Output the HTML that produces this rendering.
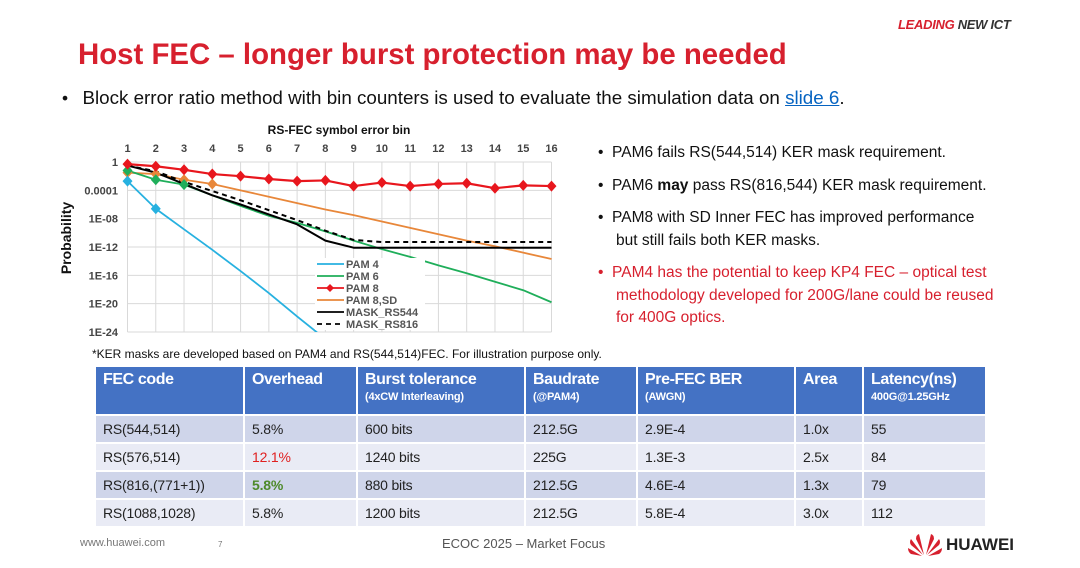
<!DOCTYPE html>
<html><head><meta charset="utf-8">
<style>
body{margin:0;background:#fff;}
#page{position:relative;width:1080px;height:568px;overflow:hidden;font-family:"Liberation Sans",sans-serif;background:#fff;}
.abs{position:absolute;white-space:nowrap;}
table{border-collapse:collapse;font-family:"Liberation Sans Narrow","Liberation Sans",sans-serif;table-layout:fixed;}
td{font-size:14px;color:#222;padding:0 7px;border:2px solid #fff;letter-spacing:-0.2px;}
th{background:#4472c4;color:#fff;text-align:left;font-size:16px;font-weight:bold;padding:3px 7px;border:2px solid #fff;vertical-align:top;line-height:20px;letter-spacing:-0.4px;}
th small{font-size:11px;display:block;line-height:14px;letter-spacing:-0.2px;}
tr.a td{background:#cfd5ea;height:24px;}
tr.b td{background:#e9ebf5;height:24px;}
</style></head><body>
<div id="page">
<div class="abs" style="left:898px;top:17px;font-size:13px;font-weight:bold;font-style:italic;letter-spacing:-0.3px"><span style="color:#d7202e">LEADING</span> <span style="color:#333">NEW ICT</span></div>
<div class="abs" style="left:78px;top:38px;font-size:29.4px;font-weight:bold;color:#d7202e">Host FEC – longer burst protection may be needed</div>
<div class="abs" style="left:62px;top:87px;font-size:17.3px;color:#111">•&nbsp;&nbsp; <span style="font-size:18.8px">Block error ratio method with bin counters is used to evaluate the simulation data on <span style="color:#0563c1;text-decoration:underline">slide 6</span>.</span></div>

<svg class="abs" style="left:0;top:0" width="600" height="350" id="chart"></svg>

<div class="abs" style="left:598px;top:142px;font-size:15.5px;color:#111;line-height:22.5px;white-space:normal;width:432px">
<div style="margin-bottom:10px">•&nbsp;&nbsp;PAM6 fails RS(544,514) KER mask requirement.</div>
<div style="margin-bottom:10px">•&nbsp;&nbsp;PAM6 <b>may</b> pass RS(816,544) KER mask requirement.</div>
<div style="margin-bottom:10px;padding-left:18px;text-indent:-18px">•&nbsp;&nbsp;PAM8 with SD Inner FEC has improved performance<br>but still fails both KER masks.</div>
<div style="color:#d7202e;padding-left:18px;text-indent:-18px">•&nbsp;&nbsp;PAM4 has the potential to keep KP4 FEC – optical test<br>methodology developed for 200G/lane could be reused<br>for 400G optics.</div>
</div>
<div class="abs" style="left:92px;top:347px;font-size:12px;color:#111">*KER masks are developed based on PAM4 and RS(544,514)FEC. For illustration purpose only.</div>

<table class="abs" style="left:94px;top:365px;width:893px">
<tr style="height:49px"><th style="width:133px">FEC code</th><th style="width:97px">Overhead</th><th style="width:152px">Burst tolerance<small>(4xCW Interleaving)</small></th><th style="width:96px">Baudrate<small>(@PAM4)</small></th><th style="width:142px">Pre-FEC BER<small>(AWGN)</small></th><th style="width:52px">Area</th><th>Latency(ns)<small>400G@1.25GHz</small></th></tr>
<tr class="a" style="height:28px"><td>RS(544,514)</td><td>5.8%</td><td>600 bits</td><td>212.5G</td><td>2.9E-4</td><td>1.0x</td><td>55</td></tr>
<tr class="b" style="height:28px"><td>RS(576,514)</td><td style="color:#e02020">12.1%</td><td>1240 bits</td><td>225G</td><td>1.3E-3</td><td>2.5x</td><td>84</td></tr>
<tr class="a" style="height:28px"><td>RS(816,(771+1))</td><td style="color:#4e8a2a;font-weight:bold">5.8%</td><td>880 bits</td><td>212.5G</td><td>4.6E-4</td><td>1.3x</td><td>79</td></tr>
<tr class="b" style="height:28px"><td>RS(1088,1028)</td><td>5.8%</td><td>1200 bits</td><td>212.5G</td><td>5.8E-4</td><td>3.0x</td><td>112</td></tr>
</table>

<div class="abs" style="left:80px;top:537px;font-size:11px;color:#777">www.huawei.com</div>
<div class="abs" style="left:218px;top:540px;font-size:8px;color:#777">7</div>
<div class="abs" style="left:442px;top:536px;font-size:13px;color:#555">ECOC 2025 – Market Focus</div>
<svg class="abs" style="left:907px;top:531px" width="36" height="26" viewBox="0 0 36 26">
<g fill="#d7202e"><path d="M17 24 L12 3 Q9 4 9 8 Z"/><path d="M19 24 L24 3 Q27 4 27 8 Z"/><path d="M16 24 L4 8 Q2 11 4 14 Z"/><path d="M20 24 L32 8 Q34 11 32 14 Z"/><path d="M15 25 L1 17 Q1 21 4 23 Z"/><path d="M21 25 L35 17 Q35 21 32 23 Z"/></g></svg>
<div class="abs" style="left:946px;top:535px;font-size:17px;font-weight:bold;color:#222">HUAWEI</div>
</div>

<script>
const bins=[1,2,3,4,5,6,7,8,9,10,11,12,13,14,15,16];
const yTickExp=[0,-4,-8,-12,-16,-20,-24];
const yTickLabels=["1","0.0001","1E-08","1E-12","1E-16","1E-20","1E-24"];
const pam4=[-2.7,-6.6,-9.5,-12.4,-15.4,-18.5,-21.8,-25,null,null,null,null,null,null,null,null];
const pam6=[-1.2,-2.5,-3.2,-4.7,-6.2,-7.6,-8.6,-9.8,-11.1,-12.3,-13.4,-14.6,-15.7,-16.9,-18.1,-19.8];
const pam8=[-0.3,-0.6,-1.1,-1.7,-2.0,-2.4,-2.7,-2.6,-3.4,-2.9,-3.4,-3.1,-3.0,-3.7,-3.3,-3.4];
const pam8sd=[-1.5,-1.7,-2.5,-3.1,-4.0,-4.9,-5.8,-6.7,-7.5,-8.4,-9.3,-10.2,-11.1,-11.9,-12.8,-13.7];
const mask544=[-0.5,-1.5,-3.1,-4.7,-6.0,-7.4,-8.8,-11.1,-12.1,-12.1,-12.1,-12.1,-12.1,-12.1,-12.1,-12.1];
const mask816=[-0.5,-1.3,-2.8,-4.1,-5.4,-6.8,-8.2,-9.7,-11.0,-11.3,-11.3,-11.3,-11.3,-11.3,-11.3,-11.3];
const NS="http://www.w3.org/2000/svg";
const svg=document.getElementById('chart');
const X0=127.5,X1=551.5,YT=162,YB=332;
const x=b=>X0+(b-1)*(X1-X0)/15;
const y=e=>162+(-e)*(170/24);
function mk(t,a,p){const e=document.createElementNS(NS,t);for(const k in a)e.setAttribute(k,a[k]);(p||svg).appendChild(e);return e;}
const clip=mk('clipPath',{id:'pc'});mk('rect',{x:X0-1,y:YT-8,width:X1-X0+2,height:YB-YT+8},clip);
for(let b=1;b<=16;b++){const l=mk('line',{x1:x(b),x2:x(b),y1:YT,y2:YB,stroke:'#d9d9d9','stroke-width':1});

}
yTickExp.forEach(e=>{const l=mk('line',{x1:X0,x2:X1,y1:y(e),y2:y(e),stroke:'#d9d9d9','stroke-width':1});

});
bins.forEach(b=>{const t=mk('text',{x:x(b),y:152,'text-anchor':'middle','font-size':11,'font-weight':'bold',fill:'#444','font-family':'Liberation Sans'});t.textContent=b;

});
yTickExp.forEach((e,i)=>{const t=mk('text',{x:118,y:y(e)+4,'text-anchor':'end','font-size':11,'font-weight':'bold',fill:'#444','font-family':'Liberation Sans'});t.textContent=yTickLabels[i];

});
const xt=mk('text',{x:339,y:134,'text-anchor':'middle','font-size':12,'font-weight':'bold',fill:'#111','font-family':'Liberation Sans'});xt.textContent='RS-FEC symbol error bin';


const yt=mk('text',{x:0,y:0,transform:'translate(71,238) rotate(-90)','text-anchor':'middle','font-size':14,'font-weight':'bold',fill:'#111','font-family':'Liberation Sans'});yt.textContent='Probability';


const g=mk('g',{'clip-path':'url(#pc)'});
function series(vals,color,name,dash,markN,w){
  const pts=[];vals.forEach((v,i)=>{if(v!==null)pts.push([x(bins[i]),y(v)]);});
  const p=mk('polyline',{points:pts.map(q=>q.join(',')).join(' '),fill:'none',stroke:color,'stroke-width':w||1.8,'stroke-dasharray':dash||'none','stroke-linejoin':'round'},g);
  
  
  for(let i=0;i<Math.min(markN,pts.length);i++){const [px,py]=pts[i];
    const m=mk('path',{d:`M${px} ${py-5.5}L${px+5} ${py}L${px} ${py+5.5}L${px-5} ${py}Z`,fill:color},svg);
    
    }
}
series(pam8sd,'#e8873a','pam8-sd','',4);
series(pam6,'#1fae5a','pam6','',3);
series(mask544,'#000','mask-rs544','',0,2);
series(mask816,'#000','mask-rs816','5,4',0,2);
series(pam4,'#27b1e0','pam4','',2);
series(pam8,'#e8161d','pam8','',16,2.2);
const leg=[['PAM 4','#27b1e0',''],['PAM 6','#1fae5a',''],['PAM 8','#e8161d',''],['PAM 8,SD','#e8873a',''],['MASK_RS544','#000',''],['MASK_RS816','#000','5,4']];
leg.forEach((L,i)=>{const ly=264+i*12;
  mk('rect',{x:315,y:ly-6,width:110,height:12,fill:'#fff'});
  const l=mk('line',{x1:317,x2:344,y1:ly,y2:ly,stroke:L[1],'stroke-width':1.8,'stroke-dasharray':L[2]||'none'});
  
  
  if(i===2)mk('path',{d:`M330 ${ly-4}L334 ${ly}L330 ${ly+4}L326 ${ly}Z`,fill:L[1]});
  const t=mk('text',{x:346,y:ly+4,'font-size':11,'font-weight':'bold',fill:'#555','font-family':'Liberation Sans'});t.textContent=L[0];
  
  });
</script>
</body></html>
